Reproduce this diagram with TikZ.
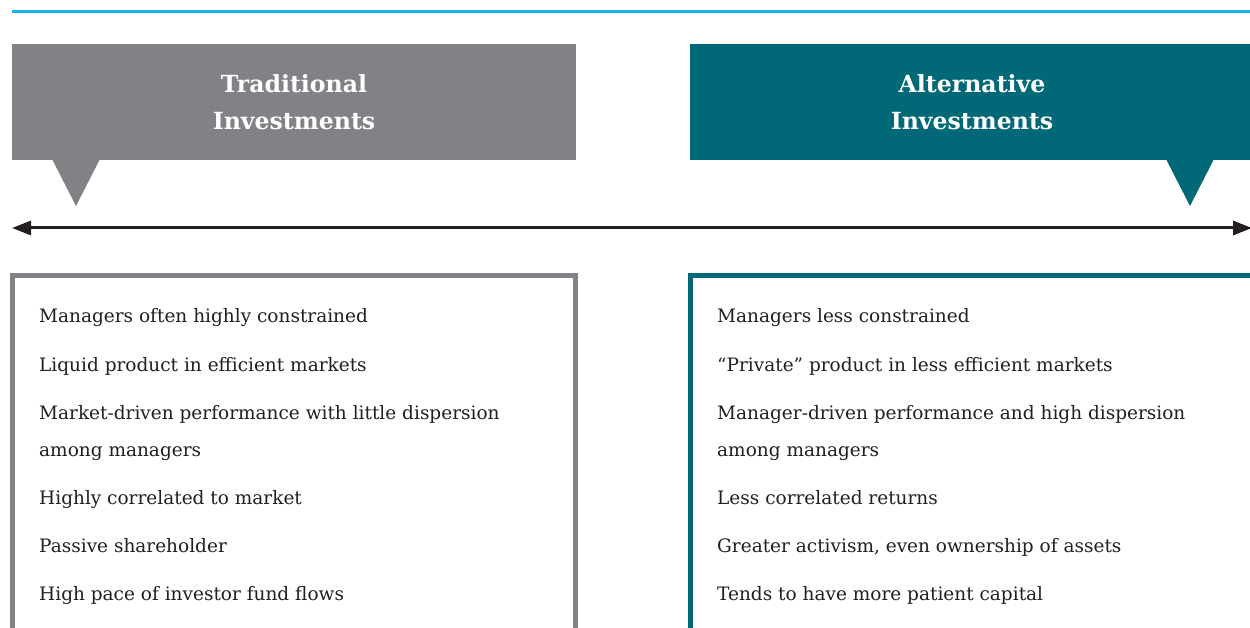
\documentclass[tikz,border=0pt]{standalone}
\usepackage{fontspec}
\setmainfont{DejaVu Serif}
\usetikzlibrary{arrows.meta}
\definecolor{tgray}{HTML}{818286}
\definecolor{teal}{HTML}{006876}
\definecolor{topblue}{HTML}{13B5EA}
\definecolor{ink}{HTML}{231F20}
\tikzset{
  hdr/.style={inner sep=0pt, outer sep=0pt, minimum width=#1, minimum height=116pt, anchor=north west},
  htext/.style={text=white, font=\fontsize{23.6}{36.5}\selectfont\bfseries, align=center, inner sep=0pt},
  item/.style={text=ink, font=\fontsize{18.5}{37}\selectfont, anchor=base west, inner sep=0pt, align=left},
  boxline/.style={line width=5pt, line join=miter},
}
\begin{document}
\begin{tikzpicture}[x=1pt,y=-1pt]
\useasboundingbox (0,0) rectangle (1250,628);
\fill[white] (0,0) rectangle (1250,628);
% top rule
\coordinate (rl) at (12,11.3);
\coordinate (rr) at (1250,11.3);
\draw[topblue, line width=3pt] (rl) -- (rr);
% headers
\node[hdr=564pt, fill=tgray] (trad) at (12,44) {};
\node[hdr=560pt, fill=teal] (alt) at (690,44) {};
\fill[tgray] (52,159) -- (100,159) -- (76,206) -- cycle;
\fill[teal] (1166,159) -- (1214,159) -- (1190,206) -- cycle;
\node[htext] (tradtxt) at (trad.center) {Traditional\\Investments};
\node[htext] (alttxt) at ([xshift=2pt]alt.center) {Alternative\\Investments};
% double arrow
\coordinate (al) at (12,228);
\coordinate (ar) at (1252,228);
\draw[ink, line width=3pt, {Triangle[length=19pt,width=14pt]}-{Triangle[length=19pt,width=14pt]}] (al) -- (ar);
% boxes
\draw[boxline, tgray] (12.5,640) -- (12.5,275.5) -- (575.5,275.5) -- (575.5,640);
\draw[boxline, teal] (690.5,640) -- (690.5,275.5) -- (1260,275.5);
% left items
\node[item] (l1) at (39,323) {Managers often highly constrained};
\node[item] (l2) at (39,371) {Liquid product in efficient markets};
\node[item] (l3) at (39,419) {Market-driven performance with little dispersion};
\node[item] (l3b) at (39,456) {among managers};
\node[item] (l4) at (39,504) {Highly correlated to market};
\node[item] (l5) at (39,552) {Passive shareholder};
\node[item] (l6) at (39,600) {High pace of investor fund flows};
% right items
\node[item] (r1) at (717,323) {Managers less constrained};
\node[item] (r2) at (717,371) {“Private” product in less efficient markets};
\node[item] (r3) at (717,419) {Manager-driven performance and high dispersion};
\node[item] (r3b) at (717,456) {among managers};
\node[item] (r4) at (717,504) {Less correlated returns};
\node[item] (r5) at (717,552) {Greater activism, even ownership of assets};
\node[item] (r6) at (717,600) {Tends to have more patient capital};
\end{tikzpicture}
\end{document}
